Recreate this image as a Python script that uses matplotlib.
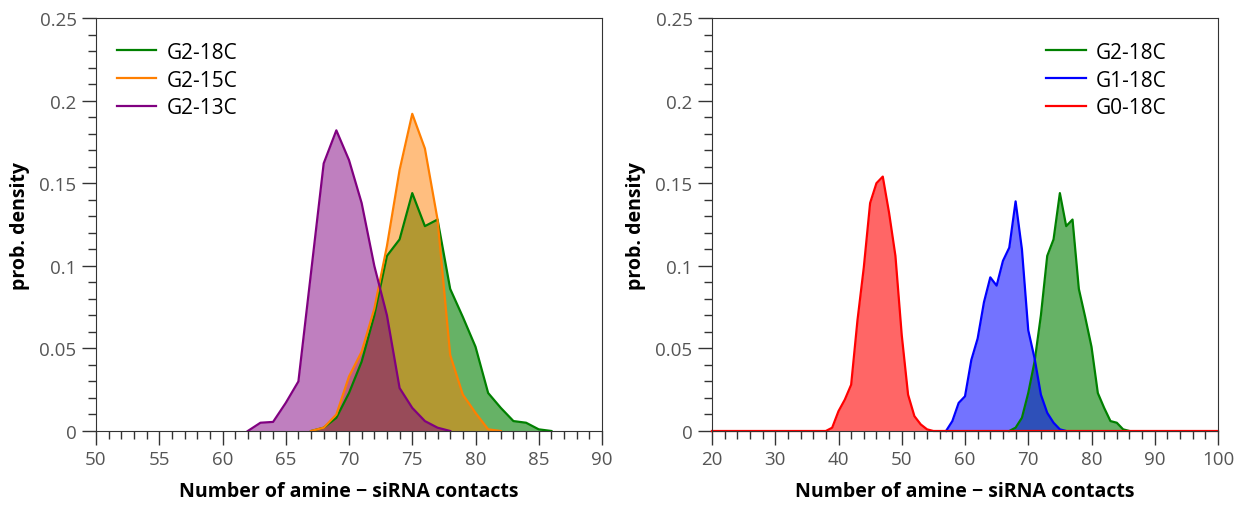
import matplotlib.pyplot as plt
import numpy as np
from matplotlib.ticker import MultipleLocator, FuncFormatter

plt.rcParams['font.family'] = ['Open Sans', 'DejaVu Sans']

# G2 series with different chain lengths (left panel)
x_g2_18 = np.arange(67, 87)
y_g2_18 = [0, 0.002, 0.008, 0.023, 0.042, 0.070, 0.106, 0.116, 0.144, 0.124,
           0.128, 0.086, 0.069, 0.051, 0.023, 0.014, 0.006, 0.005, 0.001, 0]

x_g2_15 = np.arange(67, 83)
y_g2_15 = [0, 0.002, 0.010, 0.033, 0.048, 0.074, 0.112, 0.158, 0.192, 0.171,
           0.128, 0.046, 0.022, 0.011, 0.001, 0]

x_g2_13 = np.arange(62, 79)
y_g2_13 = [0, 0.005, 0.0055, 0.017, 0.030, 0.096, 0.162, 0.182, 0.164, 0.138,
           0.100, 0.070, 0.026, 0.014, 0.006, 0.002, 0]

# generations with 18C chains (right panel)
x_g1_18 = np.arange(57, 77)
y_g1_18 = [0, 0.006, 0.017, 0.021, 0.043, 0.056, 0.078, 0.093, 0.088, 0.103,
           0.111, 0.139, 0.110, 0.061, 0.044, 0.022, 0.011, 0.005, 0.001, 0]

# G0 histogram covers the whole 20..100 range (zero outside the peak)
x_g0_18 = np.arange(20, 101)
y_g0_18 = np.zeros(len(x_g0_18))
y_g0_18[18:36] = [0, 0.002, 0.012, 0.019, 0.028, 0.067, 0.099, 0.138, 0.150,
                  0.154, 0.132, 0.106, 0.058, 0.022, 0.009, 0.004, 0.001, 0]


def style(ax, xmin, xmax, xmaj, xmin_step):
    ax.set_xlim(xmin, xmax)
    ax.set_ylim(0, 0.25)
    ax.xaxis.set_major_locator(MultipleLocator(xmaj))
    ax.xaxis.set_minor_locator(MultipleLocator(xmin_step))
    ax.yaxis.set_major_locator(MultipleLocator(0.05))
    ax.yaxis.set_minor_locator(MultipleLocator(0.01))
    ax.yaxis.set_major_formatter(FuncFormatter(lambda v, p: '%g' % round(v, 2)))
    ax.tick_params(which='both', direction='out', top=False, right=False,
                   color='#333333', labelcolor='#555555', labelsize=13.5)
    ax.tick_params(which='major', length=10, width=1, pad=4)
    ax.tick_params(which='minor', length=6, width=1)
    for s in ax.spines.values():
        s.set_color('#333333')
    ax.set_xlabel('Number of amine \u2212 siRNA contacts', fontsize=14,
                  fontweight='bold', labelpad=9)
    ax.set_ylabel('prob. density', fontsize=14, fontweight='bold', labelpad=7)


fig = plt.figure(figsize=(12.4, 5.06), dpi=100)
ax1 = fig.add_axes([96 / 1240, 74 / 506, 506 / 1240, 413 / 506])
ax2 = fig.add_axes([712 / 1240, 74 / 506, 506 / 1240, 413 / 506])

left = [(x_g2_18, y_g2_18, 'green', 'G2-18C', 0.6),
        (x_g2_15, y_g2_15, '#ff7f00', 'G2-15C', 0.5),
        (x_g2_13, y_g2_13, 'purple', 'G2-13C', 0.5)]
for x, y, c, lab, a in left:
    ax1.fill_between(x, y, 0, color=c, alpha=a, linewidth=0)
    ax1.plot(x, y, color=c, lw=1.6, label=lab)

right = [(x_g2_18, y_g2_18, 'green', 'G2-18C', 0.6),
         (x_g1_18, y_g1_18, 'blue', 'G1-18C', 0.55),
         (x_g0_18, y_g0_18, 'red', 'G0-18C', 0.6)]
for x, y, c, lab, a in right:
    ax2.fill_between(x, y, 0, color=c, alpha=a, linewidth=0)
    ax2.plot(x, y, color=c, lw=1.6, label=lab, clip_on=False)

style(ax1, 50, 90, 5, 1)
style(ax2, 20, 100, 10, 2)

leg_kw = dict(frameon=False, fontsize=15, handlelength=1.9, handletextpad=0.5,
              borderaxespad=0.6, labelspacing=0.33)
ax1.legend(loc='upper left', bbox_to_anchor=(0, 0.993), **leg_kw)
ax2.legend(loc='upper right', bbox_to_anchor=(0.94, 0.993), **leg_kw)

plt.savefig('out.png', dpi=100)
